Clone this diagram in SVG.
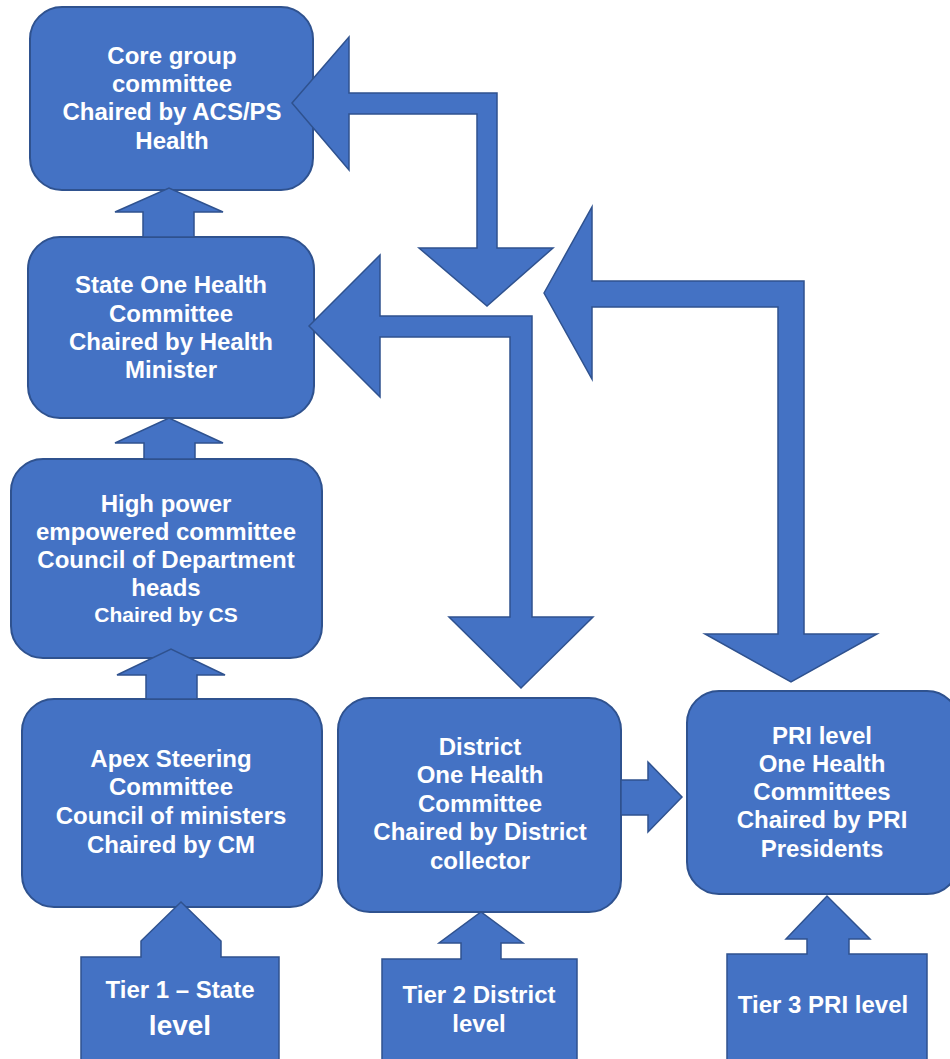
<svg xmlns="http://www.w3.org/2000/svg" width="950" height="1059" viewBox="0 0 950 1059">
<style>
.box{fill:#4472C4;stroke:#2F528F;stroke-width:2}
.arr{fill:#4472C4;stroke:#2F528F;stroke-width:1.5;stroke-linejoin:miter}
text{font-family:"Liberation Sans",Arial,sans-serif;font-weight:bold;fill:#FFFFFF;text-anchor:middle;font-size:24px}
.sm{font-size:21px}
</style>
<rect width="950" height="1059" fill="#FFFFFF"/>
<g id="core">
<rect class="box" x="30" y="7" width="283" height="183" rx="32"/>
<text x="172" y="64">Core group</text>
<text x="172" y="92">committee</text>
<text x="172" y="120">Chaired by ACS/PS</text>
<text x="172" y="149">Health</text>
</g>
<g id="state">
<rect class="box" x="28" y="237" width="286" height="181" rx="32"/>
<text x="171" y="293">State One Health</text>
<text x="171" y="322">Committee</text>
<text x="171" y="350">Chaired by Health</text>
<text x="171" y="378">Minister</text>
</g>
<g id="highpower">
<rect class="box" x="11" y="459" width="311" height="199" rx="32"/>
<text x="166" y="512">High power</text>
<text x="166" y="540">empowered committee</text>
<text x="166" y="568">Council of Department</text>
<text x="166" y="596">heads</text>
<text class="sm" x="166" y="622">Chaired by CS</text>
</g>
<g id="apex">
<rect class="box" x="22" y="699" width="300" height="208" rx="32"/>
<text x="171" y="767">Apex Steering</text>
<text x="171" y="795">Committee</text>
<text x="171" y="824">Council of ministers</text>
<text x="171" y="853">Chaired by CM</text>
</g>
<g id="district">
<rect class="box" x="338" y="698" width="283" height="214" rx="32"/>
<text x="480" y="755">District</text>
<text x="480" y="783">One Health</text>
<text x="480" y="812">Committee</text>
<text x="480" y="840">Chaired by District</text>
<text x="480" y="869">collector</text>
</g>
<g id="pri">
<rect class="box" x="687" y="691" width="272" height="203" rx="32"/>
<text x="822" y="744">PRI level</text>
<text x="822" y="772">One Health</text>
<text x="822" y="800">Committees</text>
<text x="822" y="828">Chaired by PRI</text>
<text x="822" y="857">Presidents</text>
</g>
<g id="tier1">
<path class="arr" d="M81,1065 L81,957 L141,957 L141,941 L181,902 L221,941 L221,957 L279,957 L279,1065 Z"/>
<text x="180" y="998">Tier 1 – State</text>
<text x="180" y="1035" style="font-size:28px">level</text>
</g>
<g id="tier2">
<path class="arr" d="M382,1065 L382,959 L461,959 L461,943 L439,943 L481,912 L523,943 L501,943 L501,959 L577,959 L577,1065 Z"/>
<text x="479" y="1003">Tier 2 District</text>
<text x="479" y="1032">level</text>
</g>
<g id="tier3">
<path class="arr" d="M727,1065 L727,954 L807,954 L807,939 L786,939 L827,896 L870,939 L849,939 L849,954 L927,954 L927,1065 Z"/>
<text x="823" y="1013">Tier 3 PRI level</text>
</g>
<g id="connectors">
<path class="arr" d="M143,237 L143,212 L115,212 L169,188 L223,212 L194,212 L194,237 Z"/>
<path class="arr" d="M144,459 L144,443 L115,443 L169,418 L223,443 L195,443 L195,459 Z"/>
<path class="arr" d="M146,699 L146,675 L117,675 L171,649 L225,675 L197,675 L197,699 Z"/>
<path class="arr" d="M292,103 L349,37 L349,93 L497,93 L497,248 L553,248 L487,306 L419,248 L477,248 L477,114 L349,114 L349,170 Z"/>
<path class="arr" d="M309,326 L380,255 L380,316 L532,316 L532,617 L593,617 L521,688 L449,617 L510,617 L510,337 L380,337 L380,397 Z"/>
<path class="arr" d="M544,293 L592,207 L592,281 L804,281 L804,634 L877,634 L791,682 L705,634 L778,634 L778,307 L592,307 L592,379 Z"/>
<path class="arr" d="M621,780 L648,780 L648,762 L682,797 L648,832 L648,815 L621,815 Z"/>
</g>
</svg>
